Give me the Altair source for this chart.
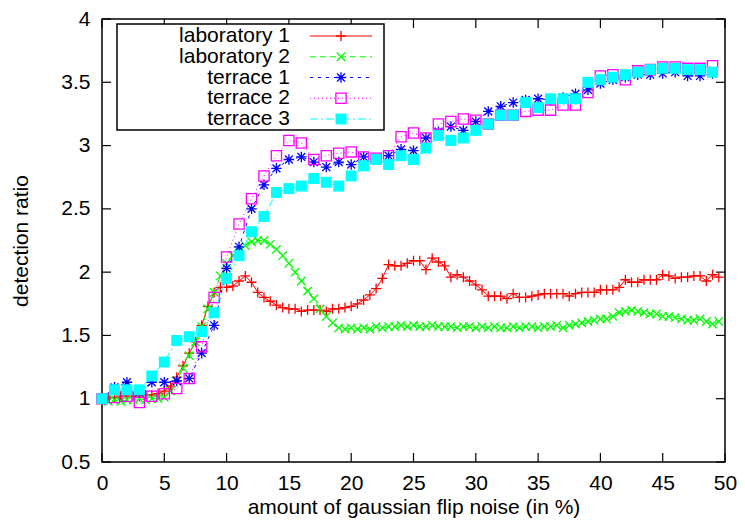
import altair as alt
import pandas as pd

# ---------------- data ----------------
series_names = ["laboratory 1", "laboratory 2", "terrace 1", "terrace 2", "terrace 3"]

lab_x = [0, 0.5, 1, 1.5, 2, 2.5, 3, 3.5, 4, 4.5, 5, 5.5, 6, 6.5, 7, 7.5, 8, 8.5, 9, 9.5,
         10, 10.5, 11, 11.5, 12, 12.5, 13, 13.5, 14, 14.5, 15, 15.5, 16, 16.5, 17, 17.5, 18, 18.5, 19, 19.5,
         20, 20.5, 21, 21.5, 22, 22.5, 23, 23.5, 24, 24.5, 25, 25.5, 26, 26.5, 27, 27.5, 28, 28.5, 29, 29.5,
         30, 30.5, 31, 31.5, 32, 32.5, 33, 33.5, 34, 34.5, 35, 35.5, 36, 36.5, 37, 37.5, 38, 38.5, 39, 39.5,
         40, 40.5, 41, 41.5, 42, 42.5, 43, 43.5, 44, 44.5, 45, 45.5, 46, 46.5, 47, 47.5, 48, 48.5, 49, 49.5]

lab1 = [1.00, 1.01, 1.01, 1.02, 1.02, 1.02, 1.02, 1.03, 1.03, 1.04,
        1.06, 1.10, 1.17, 1.26, 1.36, 1.45, 1.58, 1.73, 1.84, 1.88,
        1.88, 1.89, 1.93, 1.97, 1.92, 1.84, 1.80, 1.77, 1.74, 1.72,
        1.71, 1.71, 1.69, 1.70, 1.70, 1.70, 1.69, 1.71, 1.71, 1.72,
        1.73, 1.75, 1.78, 1.82, 1.87, 1.95, 2.06, 2.05, 2.05, 2.07,
        2.09, 2.09, 2.02, 2.11, 2.08, 2.05, 1.96, 1.98, 1.96, 1.93,
        1.90, 1.86, 1.81, 1.81, 1.81, 1.79, 1.83, 1.80, 1.80, 1.81,
        1.82, 1.83, 1.83, 1.83, 1.83, 1.81, 1.83, 1.84, 1.84, 1.84,
        1.86, 1.86, 1.86, 1.88, 1.94, 1.92, 1.92, 1.94, 1.94, 1.94,
        1.98, 1.97, 1.95, 1.96, 1.96, 1.97, 1.97, 1.93, 1.98, 1.96]

lab2 = [0.99, 0.98, 0.99, 0.98, 0.99, 0.99, 1.00, 0.99, 1.00, 1.00,
        1.01, 1.06, 1.14, 1.24, 1.34, 1.45, 1.57, 1.71, 1.84, 1.97,
        2.07, 2.13, 2.17, 2.21, 2.24, 2.25, 2.25, 2.22, 2.18, 2.13,
        2.07, 2.00, 1.93, 1.85, 1.79, 1.71, 1.65, 1.60, 1.56, 1.55,
        1.56, 1.55, 1.56, 1.55, 1.57, 1.56, 1.57, 1.57, 1.58, 1.57,
        1.58, 1.57, 1.57, 1.58, 1.57, 1.57, 1.57, 1.56, 1.57, 1.57,
        1.56, 1.57, 1.56, 1.57, 1.56, 1.56, 1.57, 1.56, 1.57, 1.57,
        1.56, 1.57, 1.57, 1.58, 1.56, 1.58, 1.59, 1.60, 1.61, 1.62,
        1.63, 1.63, 1.65, 1.68, 1.69, 1.70, 1.69, 1.68, 1.67, 1.67,
        1.65, 1.65, 1.64, 1.63, 1.62, 1.62, 1.63, 1.61, 1.59, 1.61]

ter_x = [0, 1, 2, 3, 4, 5, 6, 7, 8, 9, 10, 11, 12, 13, 14, 15, 16, 17, 18, 19,
         20, 21, 22, 23, 24, 25, 26, 27, 28, 29, 30, 31, 32, 33, 34, 35, 36, 37, 38, 39,
         40, 41, 42, 43, 44, 45, 46, 47, 48, 49]

ter1 = [1.00, 1.09, 1.13, 1.05, 1.13, 1.13, 1.14, 1.16, 1.36, 1.58,
        2.03, 2.20, 2.50, 2.69, 2.82, 2.89, 2.91, 2.87, 2.83, 2.87,
        2.85, 2.91, 2.89, 2.92, 2.97, 2.96, 3.06, 3.11, 3.15, 3.12,
        3.19, 3.27, 3.31, 3.34, 3.36, 3.37, 3.36, 3.38, 3.41, 3.44,
        3.49, 3.52, 3.54, 3.56, 3.56, 3.57, 3.58, 3.55, 3.55, 3.57]

ter2 = [1.00, 1.01, 1.02, 0.97, 1.02, 1.04, 1.08, 1.16, 1.41, 1.80,
        2.12, 2.38, 2.58, 2.76, 2.92, 3.04, 3.02, 2.89, 2.92, 2.94,
        2.95, 2.91, 2.90, 2.92, 3.07, 3.10, 3.06, 3.17, 3.19, 3.21,
        3.20, 3.17, 3.24, 3.24, 3.27, 3.28, 3.28, 3.32, 3.32, 3.42,
        3.55, 3.56, 3.52, 3.59, 3.60, 3.62, 3.62, 3.61, 3.61, 3.63]

ter3 = [1.00, 1.07, 1.07, 1.07, 1.18, 1.29, 1.46, 1.49, 1.53, 1.68,
        1.95, 2.13, 2.32, 2.44, 2.63, 2.66, 2.68, 2.74, 2.71, 2.68,
        2.76, 2.84, 2.89, 2.85, 2.92, 2.89, 2.98, 3.08, 3.04, 3.06,
        3.12, 3.17, 3.24, 3.24, 3.34, 3.30, 3.37, 3.37, 3.37, 3.50,
        3.52, 3.54, 3.56, 3.58, 3.60, 3.61, 3.61, 3.60, 3.60, 3.58]

x_ticks = [0, 5, 10, 15, 20, 25, 30, 35, 40, 45, 50]
y_ticks = [0.5, 1, 1.5, 2, 2.5, 3, 3.5, 4]

# ---------------- table ----------------
rows = []
for name, xs, ys in [(series_names[0], lab_x, lab1), (series_names[1], lab_x, lab2),
                     (series_names[2], ter_x, ter1), (series_names[3], ter_x, ter2),
                     (series_names[4], ter_x, ter3)]:
    for a, b in zip(xs, ys):
        rows.append({"series": name, "x": a, "y": b})
df = pd.DataFrame(rows)
xt_df = pd.DataFrame({"x": x_ticks})
yt_df = pd.DataFrame({"y": y_ticks})
leg_df = pd.DataFrame({"series": series_names})
one_df = pd.DataFrame({"k": [0]})

# ---------------- styling ----------------
W, H = 623, 443
FONT = "Liberation Sans"
FS = 21
TICK = 9

colors = ["#ff0000", "#00ff00", "#0000ff", "#ff00ff", "#00ffff"]
dashes = [None, [6, 4], [3, 5], [1, 3], [8, 3, 2, 3]]
plus = "M-1,0L1,0M0,-1L0,1"
cross = "M-1,-1L1,1M-1,1L1,-1"
star = "M-1,0L1,0M0,-1L0,1M-0.75,-0.75L0.75,0.75M-0.75,0.75L0.75,-0.75"
markers = [
    dict(shape=plus, filled=False, size=100, strokeWidth=1.3),
    dict(shape=cross, filled=False, size=70, strokeWidth=1.3),
    dict(shape=star, filled=False, size=110, strokeWidth=1.3),
    dict(shape="square", filled=False, size=105, strokeWidth=1.3),
    dict(shape="square", filled=True, size=120, strokeWidth=0),
]


def line_style(i):
    st = dict(color=colors[i], strokeWidth=1)
    if dashes[i] is not None:
        st["strokeDash"] = dashes[i]
    return st


X = alt.X("x:Q",
          scale=alt.Scale(domain=[0, 50], nice=False, zero=False),
          axis=alt.Axis(values=x_ticks, title="amount of gaussian flip noise (in %)",
                        grid=False, domain=False, ticks=False, labelPadding=10,
                        titlePadding=3, labelFlush=False, format="~g"))
Y = alt.Y("y:Q",
          scale=alt.Scale(domain=[0.5, 4], nice=False, zero=False),
          axis=alt.Axis(values=y_ticks, title="detection ratio",
                        grid=False, domain=False, ticks=False, labelPadding=12,
                        titlePadding=29, labelFlush=False, format="~g"))

layers = []

# inward ticks on all four sides
layers.append(alt.Chart(xt_df).mark_rule(color="black", strokeWidth=1.2).encode(
    x=X, y=alt.value(H), y2=alt.value(H - TICK)))
layers.append(alt.Chart(xt_df).mark_rule(color="black", strokeWidth=1.2).encode(
    x=X, y=alt.value(0), y2=alt.value(TICK)))
layers.append(alt.Chart(yt_df).mark_rule(color="black", strokeWidth=1.2).encode(
    y=Y, x=alt.value(0), x2=alt.value(TICK)))
layers.append(alt.Chart(yt_df).mark_rule(color="black", strokeWidth=1.2).encode(
    y=Y, x=alt.value(W), x2=alt.value(W - TICK)))

# series
for i, name in enumerate(series_names):
    base = alt.Chart(df).transform_filter(alt.datum.series == name)
    layers.append(base.mark_line(**line_style(i)).encode(x=X, y=Y))
    layers.append(base.mark_point(color=colors[i], opacity=1, **markers[i]).encode(x=X, y=Y))

# legend (gnuplot style: label on the left, sample on the right)
layers.append(alt.Chart(one_df).mark_rect(fill="white", stroke="black", strokeWidth=1.5).encode(
    x=alt.value(15), x2=alt.value(282), y=alt.value(5), y2=alt.value(111)))
for i, name in enumerate(series_names):
    py = 17 + 20.75 * i
    lb = alt.Chart(leg_df).transform_filter(alt.datum.series == name)
    layers.append(lb.mark_text(align="right", baseline="middle", font=FONT, fontSize=FS,
                               color="black").encode(
        x=alt.value(188), y=alt.value(py), text="series:N"))
    layers.append(lb.mark_rule(**line_style(i)).encode(
        x=alt.value(208), x2=alt.value(270), y=alt.value(py)))
    layers.append(lb.mark_point(color=colors[i], opacity=1, **markers[i]).encode(
        x=alt.value(239), y=alt.value(py)))

chart = alt.layer(*layers).properties(
    width=W, height=H,
    autosize=alt.AutoSizeParams(type="none"),
    padding={"left": 94, "top": 11, "right": 12, "bottom": 61},
    background="white",
).configure_view(
    stroke="black", strokeWidth=1.5
).configure_axis(
    labelFont=FONT, titleFont=FONT, labelFontSize=FS, titleFontSize=FS,
    labelColor="black", titleColor="black", titleFontWeight="normal"
)

chart.save("out.html", embed_options={"renderer": "svg", "actions": False})
